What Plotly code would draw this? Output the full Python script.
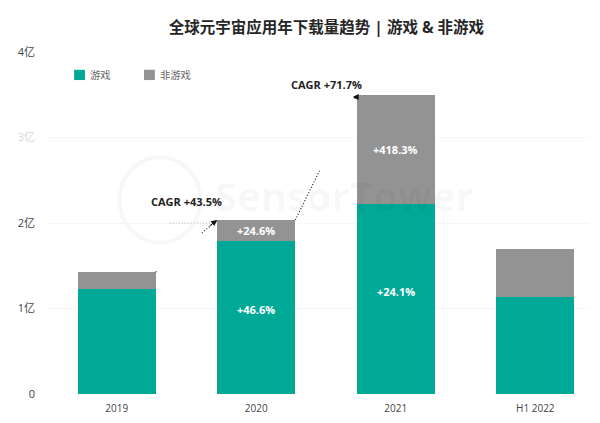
import plotly.graph_objects as go

years = ["2019", "2020", "2021", "H1 2022"]
games = [1.228, 1.785, 2.22, 1.138]
non_games = [0.199, 0.25, 1.277, 0.558]
game_labels = ["", "+46.6%", "+24.1%", ""]
non_game_labels = ["", "+24.6%", "+418.3%", ""]
y_ticks = [0, 1, 2, 3, 4]
y_tick_labels = ["0", "1亿", "2亿", '<span style="color:#d8d8d8">3亿</span>', "4亿"]

teal = "#00a896"
grey = "#939393"
bar_width = 0.56
font_family = "Open Sans, Noto Sans CJK SC, sans-serif"

x_pos = list(range(len(years)))
totals = [g + n for g, n in zip(games, non_games)]

fig = go.Figure()
fig.add_trace(go.Bar(x=x_pos, y=games, name="游戏", width=bar_width, showlegend=False,
                     marker=dict(color=teal, line=dict(width=0))))
fig.add_trace(go.Bar(x=x_pos, y=non_games, name="非游戏", width=bar_width, showlegend=False,
                     marker=dict(color=grey, line=dict(width=0))))

# dotted CAGR connectors, the middle of each one is wiped out by the watermark
visible_parts = [[(0, 0.03), (0.75, 1)], [(0, 0.4), (0.97, 1)]]
for i, parts in enumerate(visible_parts):
    x0 = x_pos[i] + bar_width / 2
    x1 = x_pos[i + 1] - bar_width / 2
    for start, end in parts:
        fig.add_trace(go.Scatter(
            x=[x0 + (x1 - x0) * start, x0 + (x1 - x0) * end],
            y=[totals[i] + (totals[i + 1] - totals[i]) * start,
               totals[i] + (totals[i + 1] - totals[i]) * end],
            mode="lines", showlegend=False, hoverinfo="skip",
            line=dict(color="#222222", width=1.2, dash="1px,2px")))

# faint horizontal guide next to the first CAGR label
fig.add_trace(go.Scatter(x=[0.38, 0.69], y=[2.0, 2.0], mode="lines", showlegend=False,
                         hoverinfo="skip", line=dict(color="#b5b5b5", width=1, dash="1px,2px")))

annotations = []
arrow_tails = [(-9, 7), (4, 0)]
arrow_shift = [0, -4]
for i in range(2):
    tip_x = x_pos[i + 1] - bar_width / 2
    annotations.append(dict(
        x=tip_x, y=totals[i + 1], xref="x", yref="y", xshift=arrow_shift[i], yshift=-2 * i,
        ax=arrow_tails[i][0], ay=arrow_tails[i][1], axref="pixel", ayref="pixel",
        text="", showarrow=True, arrowhead=2, arrowsize=1.2,
        arrowwidth=1, arrowcolor="#111111"))

for i in x_pos:
    if game_labels[i]:
        annotations.append(dict(
            x=i, y=games[i] / 2, yshift=8, text="<b>" + game_labels[i] + "</b>",
            showarrow=False, font=dict(color="white", size=11)))
    if non_game_labels[i]:
        annotations.append(dict(
            x=i, y=games[i] + non_games[i] / 2, text="<b>" + non_game_labels[i] + "</b>",
            showarrow=False, font=dict(color="white", size=11)))

annotations.append(dict(x=0.5, y=2.25, text="<b>CAGR +43.5%</b>", showarrow=False,
                        font=dict(color="#222222", size=11)))
annotations.append(dict(x=1.5, y=3.617, text="<b>CAGR +71.7%</b>", showarrow=False,
                        font=dict(color="#222222", size=11)))

# watermark
annotations.append(dict(x=0.69, y=2.32, xanchor="left", text="<b>SensorTower</b>",
                        showarrow=False, font=dict(color="rgba(0,0,0,0.032)", size=40)))

# legend drawn by hand, the swatches sit closer to the text than plotly's legend allows
shapes = [dict(type="circle", layer="below", xref="x", yref="y",
               x0=0.02, x1=0.6, y0=1.77, y1=2.77,
               line=dict(color="#f7f7f7", width=4))]
legend_x = [0.05, 0.179]
for trace, lx, color in zip(fig.data[:2], legend_x, [teal, grey]):
    shapes.append(dict(type="rect", xref="paper", yref="paper",
                       x0=lx, x1=lx + 0.02, y0=0.918, y1=0.948,
                       fillcolor=color, line=dict(width=0)))
    annotations.append(dict(x=lx + 0.025, y=0.933, xref="paper", yref="paper",
                            xanchor="left", yanchor="middle", text=trace.name, showarrow=False,
                            font=dict(size=10.3, color="#666666")))

fig.update_layout(
    width=592, height=415,
    barmode="stack",
    showlegend=False,
    paper_bgcolor="white", plot_bgcolor="white",
    margin=dict(l=39, r=11, t=44, b=29),
    font=dict(family=font_family, color="#444444", size=11),
    title=dict(text="<b>全球元宇宙应用年下载量趋势 | 游戏 & 非游戏</b>",
               x=0.538, xanchor="center", y=0.952, yanchor="middle",
               font=dict(size=15.5, color="#262626")),
    annotations=annotations,
    shapes=shapes,
    xaxis=dict(tickmode="array", tickvals=x_pos, ticktext=years,
               range=[-0.5, 3.385], showgrid=False, zeroline=False, automargin=False,
               tickfont=dict(size=10), ticks="", ticklabelstandoff=7),
    yaxis=dict(tickmode="array", tickvals=y_ticks, ticktext=y_tick_labels,
               range=[0, 4], gridcolor="#f6f6f6", zeroline=False, automargin=False,
               tickfont=dict(size=11), ticks="", ticklabelstandoff=11),
)

fig.write_html("out.html")
